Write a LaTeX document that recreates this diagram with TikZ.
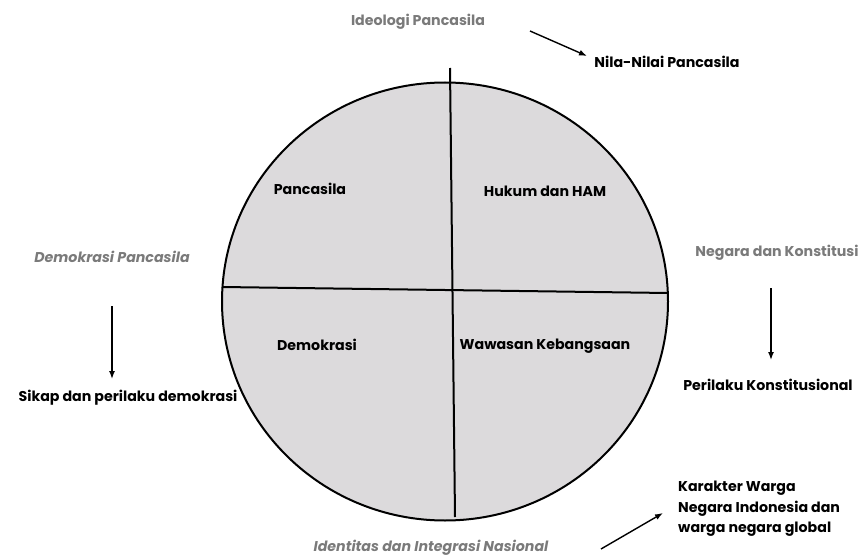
\documentclass[tikz,border=0pt]{standalone}
\usepackage{fontspec}
\setmainfont{Poppins}
\usetikzlibrary{arrows.meta}
\newcommand*{\cx}{445}
\newcommand*{\cy}{301.5}
\newcommand*{\rx}{223}
\newcommand*{\ry}{219}
\newcommand*{\lblsize}{\fontsize{14.2}{20.5}\selectfont}
\definecolor{diskgray}{RGB}{220,218,220}
\definecolor{labelgray}{RGB}{122,122,122}

\begin{document}
\begin{tikzpicture}[x=1pt,y=-1pt,font=\bfseries\lblsize,
    topic/.style={text=labelgray},
    slanted/.style={text=labelgray,font=\bfseries\itshape\lblsize},
    link/.style={line width=1.4pt,-{Latex[length=8pt,width=6pt]}}]
    \useasboundingbox (0,0) rectangle (865,559);
    % disk and its four fields
    \fill [diskgray] (\cx,\cy) ellipse [x radius=\rx, y radius=\ry];
    \draw [line width=2pt] (450,68) -- (455,517);
    \draw [line width=2pt] (222,287) -- (668,293);
    \draw [line width=2pt] (\cx,\cy) ellipse [x radius=\rx, y radius=\ry];
    \node (pancasila) at (310,189) {Pancasila};
    \node (hukum)     at (545,191) {Hukum dan HAM};
    \node (demokrasi) at (317,345) {Demokrasi};
    \node (wawasan)   at (545,346) {Wawasan Kebangsaan};
    % top
    \node [topic] (ideologi) at (418,22) {Ideologi Pancasila};
    \node (nilai) at (667,62) {Nila-Nilai Pancasila};
    \coordinate (ideologiA) at (530,31);
    \coordinate (ideologiB) at (587,56);
    \draw [link] (ideologiA) -- (ideologiB);
    % left
    \node [slanted] (dempan) at (112,257) {Demokrasi Pancasila};
    \node (sikap) at (128,398) {Sikap dan perilaku demokrasi};
    \coordinate (dempanA) at (112,306);
    \coordinate (dempanB) at (112,379);
    \draw [link] (dempanA) -- (dempanB);
    % right
    \node [topic] (negara) at (777,253) {Negara dan Konstitusi};
    \node (perilaku) at (768,385) {Perilaku Konstitusional};
    \coordinate (negaraA) at (771,288);
    \coordinate (negaraB) at (771,360);
    \draw [link] (negaraA) -- (negaraB);
    % bottom
    \node [slanted] (identitas) at (431,548) {Identitas dan Integrasi Nasional};
    \node [anchor=west, align=left, inner sep=0pt] (karakter) at (678,509)
        {Karakter Warga\\Negara Indonesia dan\\warga negara global};
    \coordinate (identitasA) at (601,549);
    \coordinate (identitasB) at (663,513);
    \draw [link] (identitasA) -- (identitasB);
\end{tikzpicture}
\end{document}
